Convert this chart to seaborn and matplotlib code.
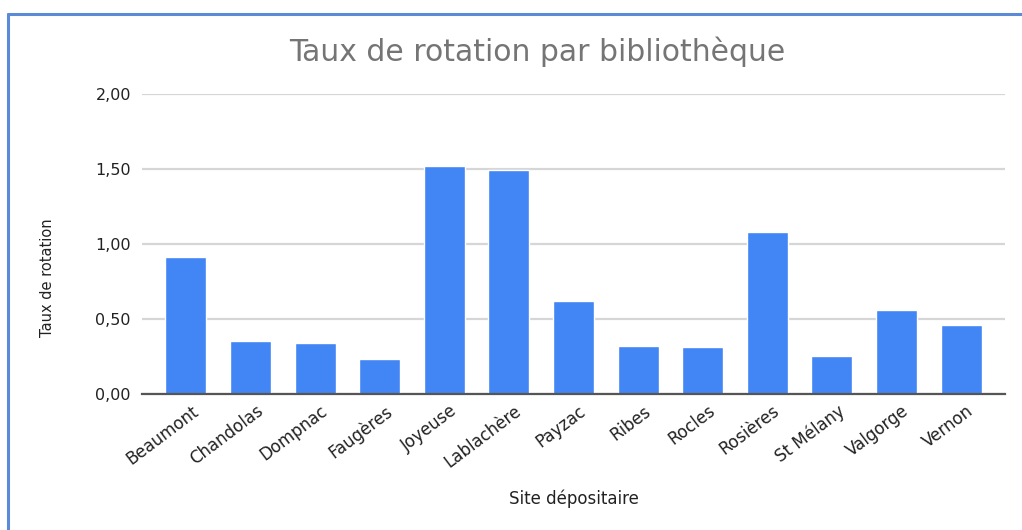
import matplotlib
matplotlib.use("Agg")
import matplotlib.pyplot as plt
import matplotlib.transforms as mtransforms
import seaborn as sns
import pandas as pd
from matplotlib.lines import Line2D

# Turnover rate per library
sites = ["Beaumont", "Chandolas", "Dompnac", "Faugères", "Joyeuse", "Lablachère",
         "Payzac", "Ribes", "Rocles", "Rosières", "St Mélany", "Valgorge", "Vernon"]
taux = [0.91, 0.35, 0.34, 0.23, 1.52, 1.49, 0.62, 0.32, 0.31, 1.08, 0.25, 0.56, 0.46]
y_ticks = [0.0, 0.5, 1.0, 1.5, 2.0]
y_tick_labels = ["0,00", "0,50", "1,00", "1,50", "2,00"]

sns.set_theme(style="white")
plt.rcParams["font.family"] = ["DejaVu Sans"]

df = pd.DataFrame({"site": sites, "taux": taux})

fig = plt.figure(figsize=(10.22, 5.30), dpi=100)
ax = fig.add_axes([0.139, 0.2575, 0.8444, 0.5651])

sns.barplot(data=df, x="site", y="taux", color="#4285F4", width=0.635,
            saturation=1, ax=ax, zorder=3)

ax.set_xlim(-0.68, 12.68)
ax.set_ylim(0, 2.0)
ax.set_yticks(y_ticks)
ax.set_yticklabels(y_tick_labels, fontsize=11.5, color="#222222")
ax.yaxis.grid(True, color="#d6d6d6", linewidth=1.6, zorder=0)
ax.set_axisbelow(True)

for s in ["top", "right", "left"]:
    ax.spines[s].set_visible(False)
ax.spines["bottom"].set_color("#555555")
ax.spines["bottom"].set_linewidth(1.6)
ax.spines["bottom"].set_zorder(4)

ax.tick_params(axis="y", length=0, pad=8)
ax.tick_params(axis="x", length=0, pad=6)
ax.set_xticks(range(len(sites)))
ax.set_xticklabels(sites, rotation=37, ha="right", rotation_mode="anchor",
                   fontsize=12, color="#222222")
shift = mtransforms.ScaledTranslation(5 / 100, 0, fig.dpi_scale_trans)
for lbl in ax.get_xticklabels():
    lbl.set_transform(lbl.get_transform() + shift)

ax.set_xlabel("Site dépositaire", fontsize=12, color="#222222")
ax.xaxis.set_label_coords(0.5, -0.353)
ax.xaxis.label.set_va("center")
ax.set_ylabel("Taux de rotation", fontsize=10.5, color="#222222")
ax.yaxis.set_label_coords(-0.110, 0.387)
ax.yaxis.label.set_va("center")

fig.text(0.5254, 0.902, "Taux de rotation par bibliothèque", ha="center", va="center",
         fontsize=21.5, color="#757575")

# Frame around the chart (left and top edges)
fig.add_artist(Line2D([7.5 / 1022, 7.5 / 1022], [0, 1 - 13.5 / 530],
                      transform=fig.transFigure, color="#5b8bd6", linewidth=2.2))
fig.add_artist(Line2D([7.5 / 1022, 1], [1 - 13.5 / 530, 1 - 13.5 / 530],
                      transform=fig.transFigure, color="#5b8bd6", linewidth=2.2))

fig.savefig("out.png", dpi=100, facecolor="white")
